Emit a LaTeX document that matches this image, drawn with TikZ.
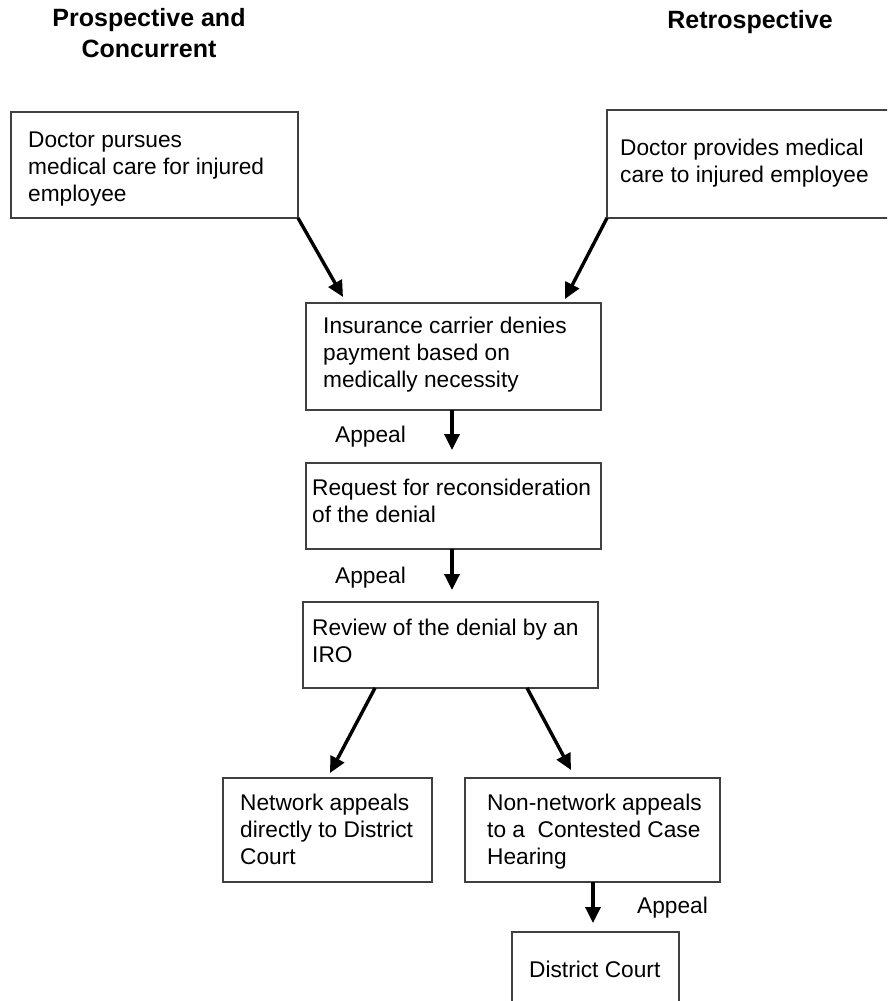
\documentclass[tikz,border=0pt]{standalone}
\usepackage{fontspec}
\setmainfont{Liberation Sans}
\usetikzlibrary{arrows.meta}
\definecolor{boxline}{gray}{0.25}

\begin{document}
\begin{tikzpicture}[x=1pt,y=-1pt,
  box/.style={draw=boxline, line width=1.4pt, inner sep=0pt, outer sep=0pt},
  body/.style={anchor=north west, align=left, inner sep=0pt,
    font=\fontsize{22.7}{27}\selectfont},
  head/.style={align=center, inner sep=0pt,
    font=\bfseries\fontsize{25}{31}\selectfont},
  lbl/.style={anchor=base west, inner sep=0pt,
    font=\fontsize{22.7}{27}\selectfont},
  arr/.style={line width=3.4pt, -{Triangle[length=16pt,width=15pt]}}
]
\useasboundingbox (0,0) rectangle (887,1001);
\clip (0,0) rectangle (887,1001);

% column headings
\node[head, anchor=north] (hl) at (149,4.3) {\strut Prospective and\\Concurrent};
\node[head, anchor=base] (hr) at (750,28) {Retrospective};

% boxes
\node[box, minimum width=287pt, minimum height=106pt] (b1) at (154.5,165) {};
\node[box, minimum width=288pt, minimum height=108pt] (b2) at (751,164) {};
\node[box, minimum width=295pt, minimum height=107pt] (b3) at (453.5,356.5) {};
\node[box, minimum width=295pt, minimum height=86pt]  (b4) at (453.5,506) {};
\node[box, minimum width=295pt, minimum height=86pt]  (b5) at (450.5,645) {};
\node[box, minimum width=209pt, minimum height=104pt] (b6) at (327.5,830) {};
\node[box, minimum width=255pt, minimum height=104pt] (b7) at (592.5,830) {};
\node[box, minimum width=167pt, minimum height=80pt]  (b8) at (595.5,972) {};

% box texts
\node[body] (t1) at (28,128.1) {\strut Doctor pursues\\medical care for injured\\employee};
\node[body] (t2) at (620,136.1) {\strut Doctor provides medical\\care to injured employee};
\node[body] (t3) at (323,314.1) {\strut Insurance carrier denies\\payment based on\\medically necessity};
\node[body] (t4) at (312,476.1) {\strut Request for reconsideration\\of the denial};
\node[body] (t5) at (312,616.1) {\strut Review of the denial by an\\IRO};
\node[body] (t6) at (240,791.1) {\strut Network appeals\\directly to District\\Court};
\node[body] (t7) at (487,791.1) {\strut Non-network appeals\\to a \ Contested Case\\Hearing};
\node[body] (t8) at (529,958.1) {\strut District Court};

% connectors
\draw[arr] (b1.south east) -- ([xshift=37pt,yshift=6pt]b3.north west);
\draw[arr] (b2.south west) -- ([xshift=-36pt,yshift=4pt]b3.north east);
\draw[arr] ([xshift=-1.5pt]b3.south) -- ([xshift=-1.5pt,yshift=13pt]b4.north);
\draw[arr] ([xshift=-1.5pt]b4.south) -- ([xshift=1.5pt,yshift=12pt]b5.north);
\draw[arr] ([xshift=-75.5pt]b5.south) -- ([xshift=2.5pt,yshift=5pt]b6.north);
\draw[arr] ([xshift=76.5pt]b5.south) -- ([xshift=106pt,yshift=8pt]b7.north west);
\draw[arr] ([xshift=0.5pt]b7.south) -- ([xshift=-2.5pt,yshift=9pt]b8.north);

% connector labels
\node[lbl] (l1) at (335,442) {Appeal};
\node[lbl] (l2) at (335,583) {Appeal};
\node[lbl] (l3) at (637,913) {Appeal};
\end{tikzpicture}
\end{document}
